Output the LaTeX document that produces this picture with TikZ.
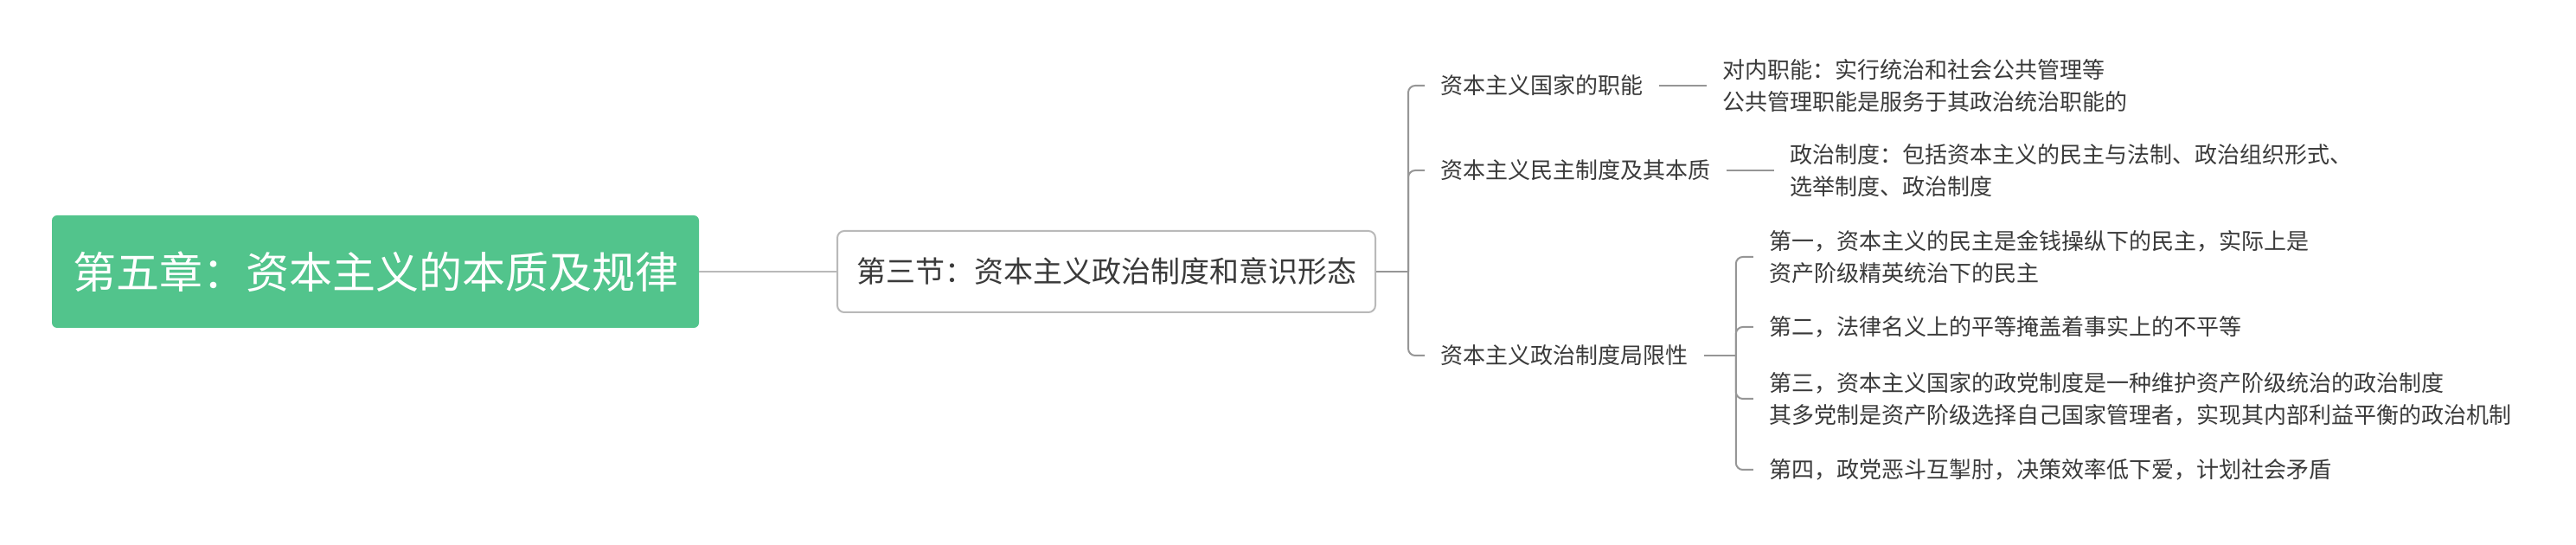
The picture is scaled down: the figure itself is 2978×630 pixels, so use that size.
\documentclass[tikz,border=0pt]{standalone}
\usepackage{fontspec}
\usepackage{xcolor}
\usepackage{tikz}
\usetikzlibrary{calc}
\usetikzlibrary{positioning}
\newfontfamily\cjk{Noto Sans CJK SC}
\definecolor{vertracine}{RGB}{82,196,140}
\definecolor{gristrait}{RGB}{150,150,150}
\definecolor{griscadre}{RGB}{185,185,185}
\definecolor{gristexte}{RGB}{58,58,58}

\begin{document}
\begin{tikzpicture}[x=0.5pt,y=-0.5pt,
	racine/.style={fill=vertracine,rounded corners=3pt,minimum width=374pt,minimum height=65pt,inner sep=0pt,text=white,font=\cjk\fontsize{25}{30}\selectfont},
	section/.style={draw=griscadre,line width=1pt,fill=white,rounded corners=4pt,minimum width=311pt,minimum height=47pt,inner sep=0pt,text=gristexte,font=\cjk\fontsize{17}{20}\selectfont},
	branche/.style={inner xsep=9pt,inner ysep=0pt,anchor=west,text=gristexte,font=\cjk\fontsize{13}{18.5}\selectfont},
	feuille/.style={branche,align=left},
	lien/.style={draw=gristrait,line width=1pt,rounded corners=4pt}]
\useasboundingbox (0,0) rectangle (2978,630);
\begin{scope} %racine et section
	\node[racine] (R) at (434,314) {第五章：资本主义的本质及规律};
	\node[section] (S) at (1279,314) {第三节：资本主义政治制度和意识形态};
	\draw[draw=griscadre,line width=1pt] (R.east) -- (S.west);
	\coordinate (F1) at ($(S.east)+(37,0)$);
	\draw[lien] (S.east) -- (F1);
\end{scope}
\begin{scope} %branches
	\node[branche] (A) at (1647,99) {资本主义国家的职能};
	\node[branche] (B) at (1647,197) {资本主义民主制度及其本质};
	\node[branche] (C) at (1647,411) {资本主义政治制度局限性};
	\draw[lien] (F1) |- (A.west);
	\draw[lien] (F1) |- (B.west);
	\draw[lien] (F1) |- (C.west);
	%feuilles
	\node[feuille,right=27.5pt of A] (A1) {对内职能：实行统治和社会公共管理等\\公共管理职能是服务于其政治统治职能的};
	\node[feuille,right=27.5pt of B] (B1) {政治制度：包括资本主义的民主与法制、政治组织形式、\\选举制度、政治制度};
	\draw[lien] (A.east) -- (A1.west);
	\draw[lien] (B.east) -- (B1.west);
\end{scope}
\begin{scope} %sous-branches de C
	\coordinate (F2) at ($(C.east)+(37,0)$);
	\draw[lien] (C.east) -- (F2);
	\node[feuille] (C1) at ($(F2)+(20,-114)$) {第一，资本主义的民主是金钱操纵下的民主，实际上是\\资产阶级精英统治下的民主};
	\node[feuille] (C2) at ($(F2)+(20,-33)$) {第二，法律名义上的平等掩盖着事实上的不平等};
	\node[feuille] (C3) at ($(F2)+(20,50)$) {第三，资本主义国家的政党制度是一种维护资产阶级统治的政治制度\\其多党制是资产阶级选择自己国家管理者，实现其内部利益平衡的政治机制};
	\node[feuille] (C4) at ($(F2)+(20,132)$) {第四，政党恶斗互掣肘，决策效率低下爱，计划社会矛盾};
	\draw[lien] (F2) |- (C1.west);
	\draw[lien] (F2) |- (C2.west);
	\draw[lien] (F2) |- (C3.west);
	\draw[lien] (F2) |- (C4.west);
\end{scope}
\end{tikzpicture}
\end{document}
